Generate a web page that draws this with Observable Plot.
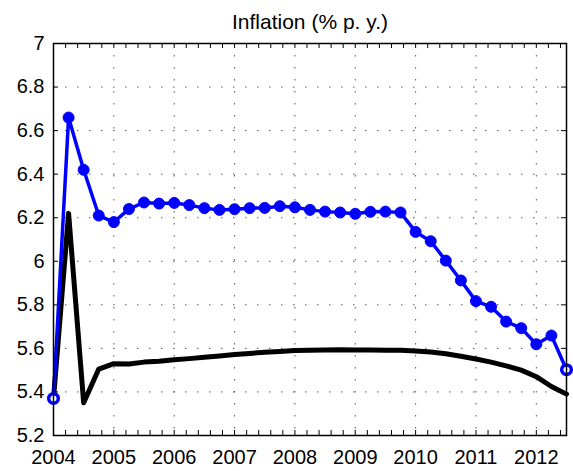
<!DOCTYPE html>
<html>
<head>
<meta charset="utf-8">
<script src="https://cdn.jsdelivr.net/npm/d3@7"></script>
<script src="https://cdn.jsdelivr.net/npm/@observablehq/plot@0.6"></script>
<style>
  html, body { margin: 0; padding: 0; background: #fff; }
</style>
</head>
<body>
<div id="chart"></div>
<script>
const title = "Inflation (% p. y.)";

const quarters = [
  2004, 2004.25, 2004.5, 2004.75,
  2005, 2005.25, 2005.5, 2005.75,
  2006, 2006.25, 2006.5, 2006.75,
  2007, 2007.25, 2007.5, 2007.75,
  2008, 2008.25, 2008.5, 2008.75,
  2009, 2009.25, 2009.5, 2009.75,
  2010, 2010.25, 2010.5, 2010.75,
  2011, 2011.25, 2011.5, 2011.75,
  2012, 2012.25, 2012.5
];

const blueSeries = [
  5.37, 6.66, 6.42, 6.21,
  6.18, 6.24, 6.27, 6.265,
  6.268, 6.258, 6.244, 6.236,
  6.239, 6.244, 6.245, 6.253,
  6.248, 6.236, 6.228, 6.224,
  6.218, 6.227, 6.228, 6.224,
  6.135, 6.092, 6.003, 5.912,
  5.817, 5.791, 5.723, 5.693,
  5.619, 5.659, 5.502
];

const blackSeries = [
  5.37, 6.22, 5.35, 5.505,
  5.53, 5.528, 5.537, 5.541,
  5.548, 5.553, 5.559, 5.565,
  5.572, 5.577, 5.582, 5.586,
  5.590, 5.592, 5.593, 5.594,
  5.593, 5.593, 5.592, 5.591,
  5.588, 5.583, 5.575, 5.564,
  5.551, 5.537, 5.520, 5.500,
  5.470, 5.425, 5.390
];

const xTicks = [2004, 2005, 2006, 2007, 2008, 2009, 2010, 2011, 2012];
const yTicks = [5.2, 5.4, 5.6, 5.8, 6, 6.2, 6.4, 6.6, 6.8, 7];
const xMinorTicks = d3.range(0, 43).map(i => 2004 + i * 0.2);

const blue = quarters.map((q, i) => ({x: q, y: blueSeries[i]}));
const black = quarters.map((q, i) => ({x: q, y: blackSeries[i]}));
const blueInner = blue.slice(1, -1);
const blueEnds = [blue[0], blue[blue.length - 1]];

const W = 573, H = 471;
const mL = 53, mR = 7, mT = 43, mB = 36;
const fw = W - mL - mR, fh = H - mT - mB;
const tk = 5;

const chart = Plot.plot({
  width: W,
  height: H,
  marginLeft: mL,
  marginRight: mR,
  marginTop: mT,
  marginBottom: mB,
  style: {fontFamily: "'Liberation Sans', Arial, Helvetica, sans-serif", fontSize: "20px", background: "#fff", color: "#000"},
  x: {domain: [2004, 2012.5]},
  y: {domain: [5.2, 7]},
  marks: [
    Plot.gridX(xTicks, {stroke: "#555", strokeOpacity: 1, strokeWidth: 1, strokeDasharray: "1.5,10.5"}),
    Plot.gridY(yTicks, {stroke: "#555", strokeOpacity: 1, strokeWidth: 1, strokeDasharray: "1.5,10.5"}),
    Plot.ruleX(xMinorTicks, {x: d => d, insetTop: fh - tk, stroke: "#000", strokeWidth: 1}),
    Plot.ruleX(xMinorTicks, {x: d => d, insetBottom: fh - tk, stroke: "#000", strokeWidth: 1}),
    Plot.ruleY(yTicks, {y: d => d, insetRight: fw - tk, stroke: "#000", strokeWidth: 1}),
    Plot.ruleY(yTicks, {y: d => d, insetLeft: fw - tk, stroke: "#000", strokeWidth: 1}),
    Plot.line(black, {x: "x", y: "y", stroke: "#000", strokeWidth: 5}),
    Plot.line(blue, {x: "x", y: "y", stroke: "#0000ff", strokeWidth: 3.5}),
    Plot.dot(blueInner, {x: "x", y: "y", r: 5.5, fill: "#0000ff", stroke: "#0000ff", strokeWidth: 1}),
    Plot.dot(blueEnds, {x: "x", y: "y", r: 4.8, fill: "#fff", stroke: "#0000ff", strokeWidth: 3.5}),
    Plot.frame({stroke: "#000", strokeWidth: 1.5}),
    Plot.axisX(xTicks, {tickSize: 0, tickPadding: 14, tickFormat: "d", fontSize: 20, label: null}),
    Plot.axisY(yTicks, {tickSize: 0, tickPadding: 9, tickFormat: d => String(d), fontSize: 20, label: null}),
    Plot.text([title], {frameAnchor: "top", lineAnchor: "bottom", dy: -15, fontSize: 21})
  ]
});

document.getElementById("chart").appendChild(chart);
</script>
</body>
</html>
